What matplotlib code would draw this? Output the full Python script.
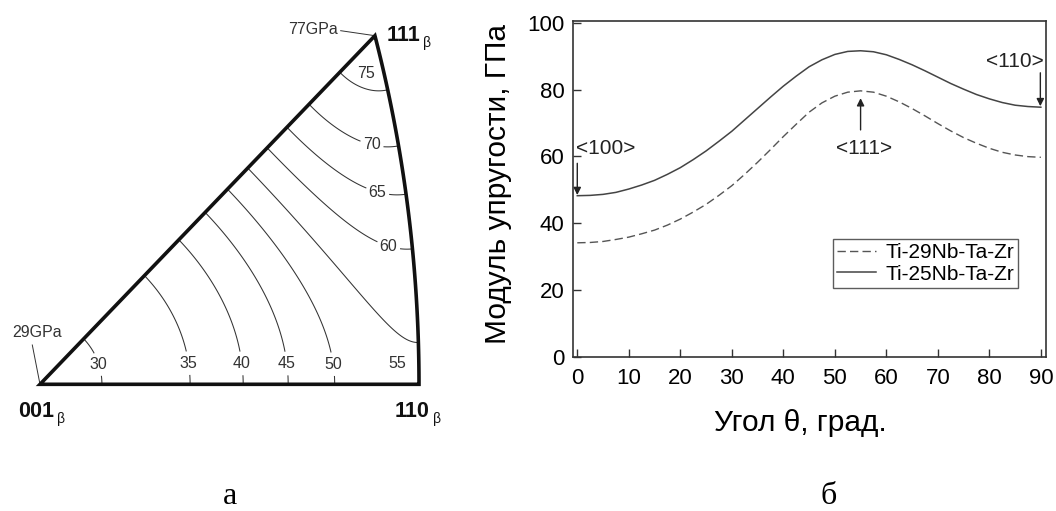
import numpy as np
import matplotlib
matplotlib.use("Agg")
import matplotlib.pyplot as plt
from matplotlib.patches import Polygon

plt.rcParams['font.family'] = ['Liberation Sans', 'DejaVu Sans']

# ---------------- data ----------------
# (a) corner moduli, GPa
E_001 = 29.0
E_111 = 77.0
contour_levels = [30, 35, 40, 45, 50, 55, 60, 65, 70, 75]

# (b) Young's modulus vs. angle theta
theta = [0, 2.5, 5, 7.5, 10, 12.5, 15, 17.5, 20, 22.5, 25, 27.5, 30, 32.5, 35, 37.5,
         40, 42.5, 45, 47.5, 50, 52.5, 55, 57.5, 60, 62.5, 65, 67.5, 70, 72.5, 75,
         77.5, 80, 82.5, 85, 87.5, 90]
E_25Nb = [48.2, 48.3, 48.6, 49.2, 50.2, 51.4, 52.8, 54.6, 56.6, 59.0, 61.6, 64.5,
          67.5, 70.9, 74.3, 77.7, 81.0, 84.0, 86.8, 88.9, 90.5, 91.4, 91.6, 91.3,
          90.4, 89.0, 87.4, 85.6, 83.7, 81.8, 80.1, 78.5, 77.2, 76.1, 75.3, 74.9, 74.7]
E_29Nb = [34.1, 34.2, 34.5, 35.1, 35.8, 36.8, 37.9, 39.4, 41.2, 43.3, 45.6, 48.3,
          51.2, 54.6, 58.2, 62.0, 65.9, 69.6, 73.2, 76.0, 78.0, 79.2, 79.6, 79.2,
          78.0, 76.3, 74.3, 72.1, 69.8, 67.6, 65.6, 63.9, 62.4, 61.2, 60.4, 59.9, 59.7]
legend_labels = ['Ti-29Nb-Ta-Zr', 'Ti-25Nb-Ta-Zr']
xticks = [0, 10, 20, 30, 40, 50, 60, 70, 80, 90]
yticks = [0, 20, 40, 60, 80, 100]

W, H = 1056, 511
fig = plt.figure(figsize=(W / 100, H / 100), dpi=100)


def fpx(x, y):
    return (x / W, 1 - y / H)


# ---------------- (a) inverse pole figure ----------------
X110 = np.sqrt(2) - 1
Y111 = 1 / (np.sqrt(3) + 1)
X111 = Y111
ax0_px = (40, 384.3, 419, 35.7)           # left, bottom, right, top (pixels)
axL = fig.add_axes([ax0_px[0] / W, 1 - ax0_px[1] / H,
                    (ax0_px[2] - ax0_px[0]) / W, (ax0_px[1] - ax0_px[3]) / H])
axL.set_xlim(0, X110)
axL.set_ylim(0, Y111)
axL.axis('off')


def px2L(px, py):
    return ((px - ax0_px[0]) / (ax0_px[2] - ax0_px[0]) * X110,
            (ax0_px[1] - py) / (ax0_px[1] - ax0_px[3]) * Y111)


t = np.linspace(0, 1, 200)
d = np.stack([np.ones_like(t), t, np.ones_like(t)]) / np.sqrt(2 + t ** 2)
arcX = d[0] / (1 + d[2])
arcY = d[1] / (1 + d[2])
verts = [(0, 0)] + list(zip(arcX, arcY))
tri = Polygon(verts, closed=True, facecolor='none', edgecolor='#111111',
              lw=2.6, joinstyle='miter', clip_on=False, zorder=4)
axL.add_patch(tri)

gx = np.linspace(0, X110, 500)
gy = np.linspace(0, Y111 * 1.02, 500)
GX, GY = np.meshgrid(gx, gy)
r2 = GX ** 2 + GY ** 2
l1 = 2 * GX / (1 + r2)
l2 = 2 * GY / (1 + r2)
l3 = (1 - r2) / (1 + r2)
Gam = l1 ** 2 * l2 ** 2 + l2 ** 2 * l3 ** 2 + l3 ** 2 * l1 ** 2
invE = 1 / E_001 - (1 / E_001 - 1 / E_111) * 3 * Gam
E = 1 / invE

cs = axL.contour(GX, GY, E, levels=contour_levels, colors='#333333', linewidths=0.75)
lab_px = [(101.7, 363.3), (187.3, 363.3), (242.3, 363.3), (288.3, 363.3),
          (334.3, 364.0), (388.3, 246.7), (379.3, 185.7), (372.3, 142.7)]
manual = [px2L(*p) for p in lab_px]
txts = axL.clabel(cs, levels=contour_levels, inline=True, inline_spacing=3,
                  fmt='%d', fontsize=11.5, colors='#333333', manual=manual)
for tt in txts:
    tt.set_rotation(0)
cs.set_clip_path(tri)

fig.text(*fpx(365.7, 73.3), '75', fontsize=11.5, color='#333333', ha='center', va='center')
fig.text(*fpx(397.7, 364.0), '55', fontsize=11.5, color='#333333', ha='center', va='center')

fig.text(*fpx(337.5, 30), '77GPa', fontsize=11.5, color='#333333', ha='right', va='center')
x1, y1 = px2L(340.7, 30.7)
axL.plot([x1, X111], [y1, Y111], color='#333333', lw=0.7, clip_on=False)
fig.text(*fpx(36.7, 332.3), '29GPa', fontsize=11.5, color='#333333', ha='center', va='center')
x1, y1 = px2L(32.3, 345)
axL.plot([x1, 0], [y1, 0], color='#333333', lw=0.7, clip_on=False)

for (lx, ly, bx, by, s) in [(387, 35, 423, 43.5, '111'), (18, 411.7, 57, 418.5, '001'),
                            (395, 411.7, 433, 418.5, '110')]:
    fig.text(*fpx(lx, ly), s, fontsize=15.5, fontweight='bold', color='#111111',
             ha='left', va='center')
    fig.text(*fpx(bx, by), 'β', fontsize=10, color='#111111', ha='left', va='center')

# ---------------- (b) modulus vs angle ----------------
axR = fig.add_axes([572.8 / W, 1 - 356.7 / H, (1045.5 - 572.8) / W, (356.7 - 20.7) / H])
ln1, = axR.plot(theta, E_29Nb, color='#555555', lw=1.0, linestyle=(0, (6, 3)))
ln2, = axR.plot(theta, E_25Nb, color='#444444', lw=1.1)
axR.set_xlim(-0.87, 90.9)
axR.set_ylim(0, 100.6)
axR.set_xticks(xticks)
axR.set_yticks(yticks)
axR.tick_params(direction='in', length=6, width=1, labelsize=16, color='#333333')
axR.tick_params(axis='y', pad=6)
axR.tick_params(axis='x', pad=8)
for sp in axR.spines.values():
    sp.set_color('#333333')
    sp.set_linewidth(1.2)

axR.set_xlabel('Угол θ, град.', fontsize=21.5, va='center')
axR.xaxis.set_label_coords((800.7 - 572.8) / 472.7, (356.7 - 423.3) / 336)
axR.set_ylabel('Модуль упругости, ГПа', fontsize=21.5, va='center')
axR.yaxis.set_label_coords((498 - 572.8) / 472.7, (356.7 - 184) / 336)

leg = axR.legend([ln1, ln2], legend_labels, loc='upper left',
                 bbox_to_anchor=((833.3 - 572.8) / 472.7, (356.7 - 239) / 336),
                 borderaxespad=0, fontsize=15, frameon=True, fancybox=False,
                 handlelength=1.85, handletextpad=0.45, labelspacing=0.12,
                 borderpad=0.2)
leg.get_frame().set_edgecolor('#333333')
leg.get_frame().set_linewidth(1.0)

arrow = dict(arrowstyle='-|>', color='#222222', lw=1.0, mutation_scale=11,
             shrinkA=0, shrinkB=0)
axR.annotate('', xy=(0, 48.4), xytext=(0, 57.9), arrowprops=arrow)
axR.annotate('', xy=(55, 77.4), xytext=(55, 67.9), arrowprops=arrow)
axR.annotate('', xy=(89.9, 75.0), xytext=(89.9, 85.0), arrowprops=arrow)
axR.text(5.5, 62.4, '<100>', fontsize=15, ha='center', va='center', color='#222222')
axR.text(55.7, 62.3, '<111>', fontsize=15, ha='center', va='center', color='#222222')
axR.text(84.9, 88.3, '<110>', fontsize=15, ha='center', va='center', color='#222222')

fig.text(*fpx(230, 511), 'а', fontsize=23, family='Liberation Serif', ha='center', va='bottom')
fig.text(*fpx(829, 511), 'б', fontsize=23, family='Liberation Serif', ha='center', va='bottom')

fig.savefig('out.png', dpi=100)
